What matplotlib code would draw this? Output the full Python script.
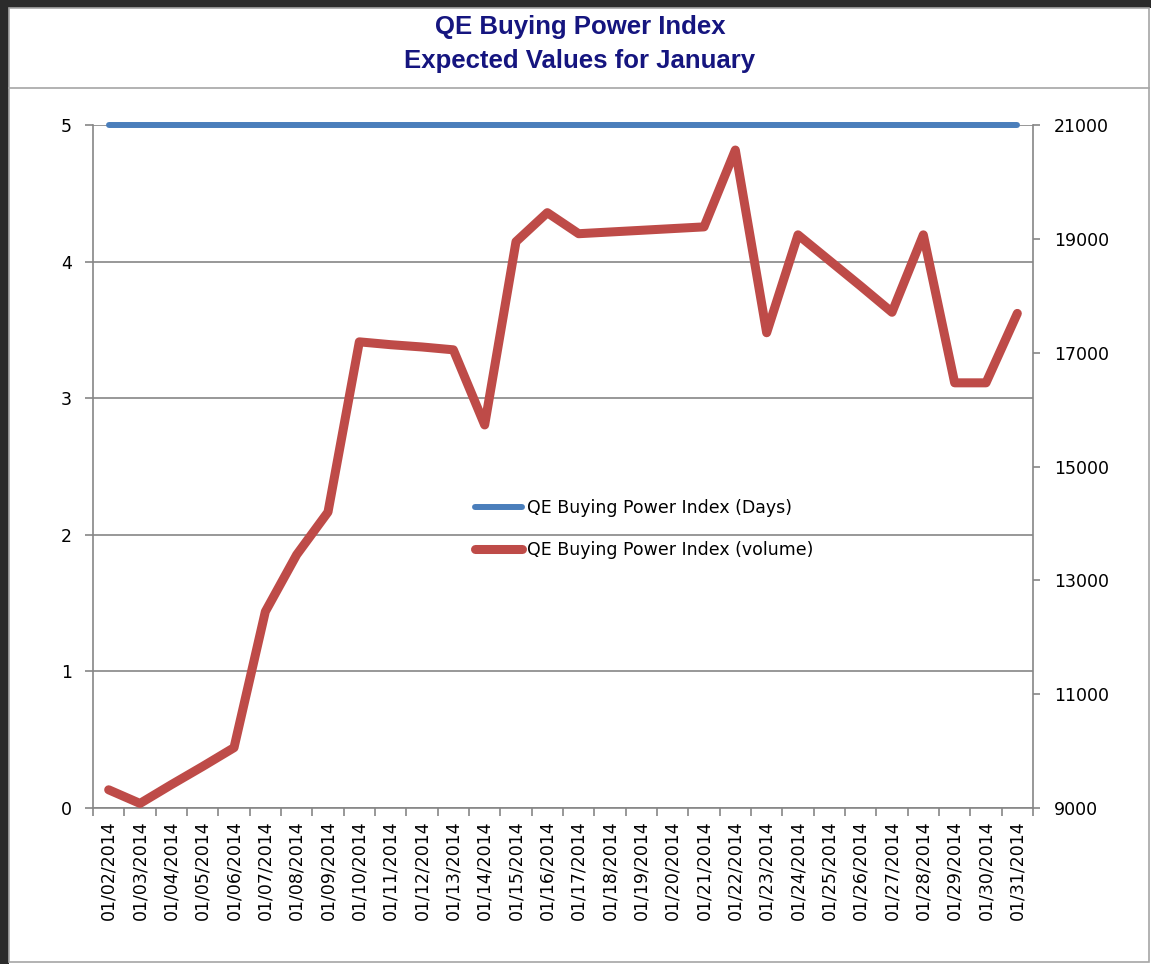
import matplotlib
matplotlib.use("Agg")
import matplotlib.pyplot as plt
from matplotlib.patches import Rectangle
from matplotlib.lines import Line2D
import numpy as np

# data
dates = ["01/02/2014", "01/03/2014", "01/04/2014", "01/05/2014", "01/06/2014",
         "01/07/2014", "01/08/2014", "01/09/2014", "01/10/2014", "01/11/2014",
         "01/12/2014", "01/13/2014", "01/14/2014", "01/15/2014", "01/16/2014",
         "01/17/2014", "01/18/2014", "01/19/2014", "01/20/2014", "01/21/2014",
         "01/22/2014", "01/23/2014", "01/24/2014", "01/25/2014", "01/26/2014",
         "01/27/2014", "01/28/2014", "01/29/2014", "01/30/2014", "01/31/2014"]
days_index = [5, 5, 5, 5, 5, 5, 5, 5, 5, 5, 5, 5, 5, 5, 5,
              5, 5, 5, 5, 5, 5, 5, 5, 5, 5, 5, 5, 5, 5, 5]
volume_index = [9320, 9080, 9410, 9730, 10060, 12450, 13450, 14200, 17190, 17140,
                17100, 17050, 15730, 18950, 19460, 19090, 19120, 19150, 19180, 19210,
                20560, 17350, 19070, 18620, 18170, 17710, 19070, 16470, 16470, 17690]

left_ticks = [0, 1, 2, 3, 4, 5]
right_ticks = [9000, 11000, 13000, 15000, 17000, 19000, 21000]

blue = "#4a7ebb"
red = "#be4b48"
axis_gray = "#868686"
fs = 12.5

fig = plt.figure(figsize=(11.51, 9.64), dpi=100)
fig.patch.set_facecolor("white")

W, H = 1151, 964
# screenshot frame: dark band top/left, gray chart border, title separator
fig.patches.append(Rectangle((0, 0), 9 / W, 1, transform=fig.transFigure,
                             facecolor="#2b2b2b", edgecolor="none", zorder=-3))
fig.patches.append(Rectangle((0, 1 - 8 / H), 1, 8 / H, transform=fig.transFigure,
                             facecolor="#2b2b2b", edgecolor="none", zorder=-3))
fig.patches.append(Rectangle((9 / W, 1 - 962 / H), 1140 / W, 954 / H,
                             transform=fig.transFigure, facecolor="white",
                             edgecolor="#a6a6a6", linewidth=1.2, zorder=-2))
fig.lines.append(Line2D([9 / W, 1149 / W], [1 - 88 / H, 1 - 88 / H],
                        transform=fig.transFigure, color="#a6a6a6", linewidth=1.2,
                        zorder=-1))

fig.text(580 / W, 1 - 44 / H, "QE Buying Power Index\nExpected Values for January",
         ha="center", va="center", fontsize=18.5, fontweight="bold",
         color="#15157f", family="Liberation Sans", linespacing=1.5)

ax = fig.add_axes([93 / W, 1 - 808 / H, 940 / W, 683 / H])
ax2 = ax.twinx()
ax.set_facecolor("none")

x = np.arange(len(dates))
l1, = ax.plot(x, days_index, color=blue, linewidth=4.3, solid_capstyle="round",
              label="QE Buying Power Index (Days)", zorder=3, clip_on=False)
l2, = ax2.plot(x, volume_index, color=red, linewidth=6.5, solid_capstyle="round",
               solid_joinstyle="round", label="QE Buying Power Index (volume)",
               zorder=3, clip_on=False)

ax.set_xlim(-0.5, len(dates) - 0.5)
ax.set_ylim(0, 5)
ax2.set_ylim(9000, 21000)

ax.set_yticks(left_ticks)
ax2.set_yticks(right_ticks)
ax.set_xticks(x)
ax.set_xticklabels(dates, rotation=90, fontsize=fs)
ax.set_xticks(np.arange(-0.5, len(dates)), minor=True)
ax.tick_params(axis="x", which="major", length=0, pad=9)
ax.tick_params(axis="x", which="minor", length=6, color=axis_gray, width=1.2)
ax.tick_params(axis="y", length=6, color=axis_gray, width=1.2, labelsize=fs, pad=9)
ax2.tick_params(axis="y", length=5, color=axis_gray, width=1.2, labelsize=fs, pad=10)

ax.yaxis.grid(True, color=axis_gray, linewidth=1.2)
ax.set_axisbelow(True)

for s in ["top", "right"]:
    ax.spines[s].set_visible(False)
for s in ["left", "bottom"]:
    ax.spines[s].set_color(axis_gray)
    ax.spines[s].set_linewidth(1.2)
for s in ["top", "left", "bottom"]:
    ax2.spines[s].set_visible(False)
ax2.spines["right"].set_color(axis_gray)
ax2.spines["right"].set_linewidth(1.2)

ax2.legend([l1, l2], [l1.get_label(), l2.get_label()], loc="center left",
           bbox_to_anchor=(0.406, 0.4085), frameon=False, fontsize=fs,
           handlelength=2.75, handletextpad=0.25, labelspacing=1.35,
           borderpad=0, borderaxespad=0)

fig.savefig("out.png", dpi=100, facecolor=fig.get_facecolor())
